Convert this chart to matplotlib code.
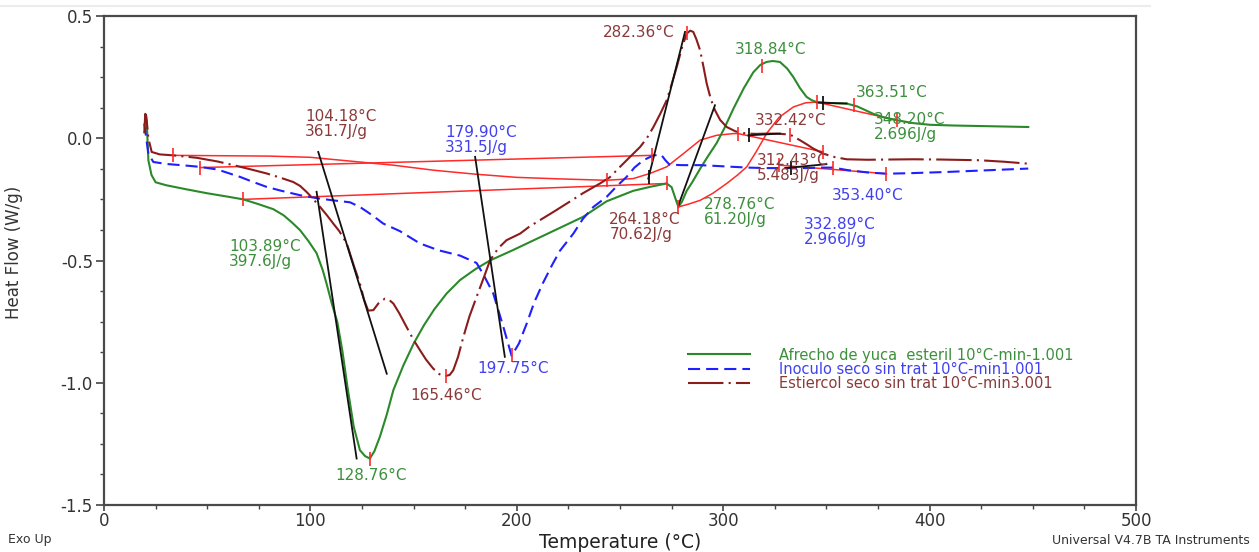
import matplotlib
matplotlib.use("Agg")
import matplotlib.pyplot as plt
from matplotlib.lines import Line2D
from matplotlib.ticker import MultipleLocator, FormatStrFormatter

plt.rcParams['font.family'] = ['DejaVu Sans']
plt.rcParams['axes.unicode_minus'] = False

# ---------------- DSC curves (temperature in °C, heat flow in W/g) ----------------
afrecho_T = [20, 20.7, 21.5, 23, 25, 30, 40, 50, 60, 67.5, 75, 82, 87, 91, 95, 99, 103,
             106, 108, 110.5, 113, 115.5, 118, 121, 124, 126.5, 128.8, 131, 133.7, 137,
             140.2, 145, 150, 155, 160, 166, 172.5, 180, 187, 198, 210, 220, 232, 243.5,
             256.4, 265, 272.6, 275, 277, 278.3, 280, 282.3, 285, 288.8, 292.5, 296.8,
             300.5, 304.9, 310, 314.6, 318, 321, 324, 327.5, 331, 334, 337.2, 340.4, 343,
             345.3, 350, 355, 359.8, 365, 372.7, 378, 384, 392, 400.2, 412, 424.4, 436,
             447.8]
afrecho_HF = [0.09, 0.07, -0.09, -0.15, -0.18, -0.192, -0.209, -0.225, -0.239, -0.25,
              -0.27, -0.29, -0.315, -0.344, -0.376, -0.42, -0.47, -0.54, -0.60, -0.68,
              -0.75, -0.87, -1.02, -1.18, -1.276, -1.30, -1.31, -1.28, -1.22, -1.13,
              -1.03, -0.93, -0.84, -0.765, -0.70, -0.635, -0.58, -0.535, -0.50, -0.458,
              -0.41, -0.37, -0.322, -0.258, -0.215, -0.198, -0.185, -0.20, -0.25, -0.281,
              -0.26, -0.215, -0.18, -0.125, -0.075, -0.02, 0.04, 0.12, 0.205, 0.27,
              0.30, 0.312, 0.316, 0.312, 0.285, 0.25, 0.205, 0.169, 0.155, 0.148, 0.145,
              0.143, 0.142, 0.13, 0.10, 0.085, 0.074, 0.062, 0.055, 0.052, 0.05, 0.048,
              0.046]

inoculo_T = [19.5, 20, 20.8, 21.5, 23.9, 30, 40, 46.5, 55, 65.9, 72, 78.8, 86, 95, 103,
             111, 119.2, 124, 130, 135.3, 143.4, 153, 162, 172.5, 180.5, 184, 188.6,
             193.5, 197.5, 201, 204.8, 208.5, 212.8, 217, 220.9, 227.4, 232, 237.1,
             243.5, 248, 253.2, 257, 261.3, 266.2, 270, 272, 274, 280, 288.8, 296,
             304.9, 312, 321, 330, 340, 347, 353.4, 360, 370, 379, 390, 408, 425, 447.8]
inoculo_HF = [0.06, 0.03, -0.02, -0.063, -0.097, -0.105, -0.112, -0.117, -0.128, -0.158,
              -0.178, -0.199, -0.215, -0.233, -0.245, -0.254, -0.262, -0.281, -0.315,
              -0.349, -0.38, -0.43, -0.458, -0.48, -0.51, -0.56, -0.635, -0.772, -0.89,
              -0.84, -0.758, -0.67, -0.59, -0.52, -0.46, -0.39, -0.33, -0.281, -0.24,
              -0.20, -0.158, -0.12, -0.09, -0.07, -0.068, -0.09, -0.108, -0.11, -0.11,
              -0.113, -0.117, -0.12, -0.122, -0.122, -0.122, -0.12, -0.12, -0.13, -0.14,
              -0.145, -0.143, -0.138, -0.132, -0.124]

estiercol_T = [19.5, 20, 20.5, 21.5, 23.1, 27, 33.6, 45, 55, 62.7, 70, 78.8, 85, 91.7,
               95, 98.2, 101, 104.7, 108, 111.1, 114, 117.6, 121, 124, 126, 128, 130.5,
               133, 136.1, 138, 140.2, 143, 146.6, 150, 153.1, 156, 159.5, 162.5, 165.2,
               167.5, 169.2, 171.5, 174.1, 177, 180.5, 184, 187, 191, 195, 201.6, 206,
               211.2, 218, 224.2, 232, 240.3, 245, 250, 255, 259.7, 263, 266.2, 269.5,
               272.6, 275, 277.5, 280, 282.3, 284, 285.5, 287, 288.8, 290.5, 292, 294,
               296, 298.5, 301.7, 306, 311.4, 316, 321, 326, 332.4, 337.2, 340.5, 343.6,
               348.5, 354, 359.8, 370, 380, 392, 405, 424.4, 436, 447.8]
estiercol_HF = [0.02, 0.10, 0.09, 0.0, -0.056, -0.066, -0.07, -0.08, -0.095, -0.11,
                -0.125, -0.144, -0.16, -0.179, -0.195, -0.22, -0.245, -0.281, -0.315,
                -0.349, -0.38, -0.43, -0.52, -0.594, -0.66, -0.705, -0.703, -0.675,
                -0.656, -0.66, -0.676, -0.715, -0.772, -0.825, -0.867, -0.905, -0.942,
                -0.965, -0.973, -0.968, -0.949, -0.895, -0.813, -0.73, -0.649, -0.57,
                -0.50, -0.45, -0.417, -0.39, -0.362, -0.335, -0.30, -0.267, -0.225,
                -0.185, -0.16, -0.117, -0.075, -0.036, 0.0, 0.046, 0.10, 0.155, 0.22,
                0.292, 0.37, 0.428, 0.44, 0.435, 0.405, 0.36, 0.29, 0.224, 0.16, 0.115,
                0.075, 0.046, 0.028, 0.019, 0.018, 0.019, 0.019, 0.015, -0.008, -0.025,
                -0.042, -0.063, -0.077, -0.086, -0.088, -0.087, -0.086, -0.087, -0.09,
                -0.096, -0.104]

series_labels = ["Afrecho de yuca  esteril 10°C-min-1.001",
                 "Inoculo seco sin trat 10°C-min1.001",
                 "Estiercol seco sin trat 10°C-min3.001"]

# ---------------- integration baselines (T, HF) ----------------
afrecho_base1_T, afrecho_base1_HF = [67.5, 272.6], [-0.25, -0.185]
afrecho_base2_T = [278.3, 283, 288.8, 295, 301.7, 307, 311.4, 316, 321, 327, 334, 340, 345.3]
afrecho_base2_HF = [-0.281, -0.27, -0.254, -0.225, -0.185, -0.15, -0.117, -0.055, 0.019,
                    0.085, 0.128, 0.145, 0.148]
afrecho_base3_T, afrecho_base3_HF = [345.3, 384], [0.148, 0.074]

inoculo_base1_T, inoculo_base1_HF = [46.5, 265.4], [-0.12, -0.07]
inoculo_base2_T, inoculo_base2_HF = [327, 379], [-0.11, -0.145]

estiercol_base1_T = [33.6, 80, 100, 120, 140, 160, 180, 200, 220, 243.5]
estiercol_base1_HF = [-0.07, -0.073, -0.078, -0.094, -0.11, -0.131, -0.147, -0.16, -0.166, -0.172]
estiercol_base2_T = [243.5, 256.4, 264.5, 272.6, 280.7, 288.8, 296.8, 304.9, 307.3]
estiercol_base2_HF = [-0.172, -0.165, -0.144, -0.117, -0.063, -0.008, 0.012, 0.019, 0.019]
estiercol_base3_T, estiercol_base3_HF = [307.3, 348.5], [0.019, -0.056]

# integration limits (red ticks)
limit_T = [67.5, 272.6, 278.3, 345.3, 384, 33.6, 243.5, 307.3, 348.5, 46.5, 265.4, 327, 379]
limit_HF = [-0.25, -0.185, -0.281, 0.148, 0.074, -0.07, -0.172, 0.019, -0.056, -0.12,
            -0.07, -0.11, -0.145]

# peak temperatures (red ticks)
peak_T = [128.76, 318.84, 363.51, 165.46, 282.36, 332.42, 197.75, 353.40]
peak_HF = [-1.31, 0.295, 0.135, -0.973, 0.432, 0.015, -0.888, -0.12]

# onset tangent constructions (black)
onset_lines = [
    ([103.0, 122.4], [-0.219, -1.31]),
    ([103.8, 137.0], [-0.056, -0.963]),
    ([179.8, 194.2], [-0.076, -0.894]),
    ([263.7, 281.5], [-0.165, 0.435]),
    ([278.3, 296.0], [-0.274, 0.135]),
    ([312.2, 327.5], [0.012, 0.019]),
    ([330.0, 350.0], [-0.122, -0.106]),
    ([345.3, 359.8], [0.146, 0.142]),
]
onset_tick_T = [312.43, 332.89, 348.20, 264.18]
onset_tick_HF = [0.012, -0.121, 0.146, -0.160]

# ---------------- annotation texts ----------------
green_c, blue_c, brown_c = "#2a8a2a", "#1f1fff", "#8b1c1c"
green_t, blue_t, brown_t = "#3c8f3c", "#4040f0", "#8b3a3a"

annotations = [
    ("104.18°C\n361.7J/g", 97.4, 0.059, brown_t),
    ("179.90°C\n331.5J/g", 165.2, -0.008, blue_t),
    ("282.36°C", 241.6, 0.432, brown_t),
    ("318.84°C", 305.7, 0.363, green_t),
    ("332.42°C", 315.1, 0.071, brown_t),
    ("312.43°C\n5.483J/g", 316.2, -0.12, brown_t),
    ("264.18°C\n70.62J/g", 244.8, -0.363, brown_t),
    ("278.76°C\n61.20J/g", 290.4, -0.30, green_t),
    ("363.51°C", 364.3, 0.187, green_t),
    ("348.20°C\n2.696J/g", 373.0, 0.044, green_t),
    ("353.40°C", 352.6, -0.236, blue_t),
    ("332.89°C\n2.966J/g", 339.1, -0.384, blue_t),
    ("103.89°C\n397.6J/g", 60.7, -0.474, green_t),
    ("165.46°C", 148.6, -1.051, brown_t),
    ("197.75°C", 180.9, -0.942, blue_t),
    ("128.76°C", 111.9, -1.378, green_t),
]

# ---------------- figure ----------------
fig = plt.figure(figsize=(12.59, 5.52), dpi=100)
ax = fig.add_axes([104 / 1259, 47 / 552, 1032 / 1259, 489 / 552])

red = "#ff2a2a"
for bt, bh in [(afrecho_base1_T, afrecho_base1_HF), (afrecho_base2_T, afrecho_base2_HF),
               (afrecho_base3_T, afrecho_base3_HF), (inoculo_base1_T, inoculo_base1_HF),
               (inoculo_base2_T, inoculo_base2_HF), (estiercol_base1_T, estiercol_base1_HF),
               (estiercol_base2_T, estiercol_base2_HF), (estiercol_base3_T, estiercol_base3_HF)]:
    ax.plot(bt, bh, color=red, lw=1.1, zorder=2)

l1, = ax.plot(afrecho_T, afrecho_HF, color=green_c, lw=1.5, zorder=3)
l2, = ax.plot(inoculo_T, inoculo_HF, color=blue_c, lw=1.5, zorder=3,
              linestyle=(0, (5.8, 2.9)))
l3, = ax.plot(estiercol_T, estiercol_HF, color=brown_c, lw=1.5, zorder=3,
              linestyle=(0, (17, 2.5, 1, 2.5)))

for ot, oh in onset_lines:
    ax.plot(ot, oh, color="#111111", lw=1.3, zorder=4)
ax.plot(onset_tick_T, onset_tick_HF, linestyle="none", marker="|", markersize=10,
        mew=1.3, color="#111111", zorder=4)

ax.plot(limit_T, limit_HF, linestyle="none", marker="|", markersize=10, mew=1.2,
        color=red, zorder=5)
ax.plot(peak_T, peak_HF, linestyle="none", marker="|", markersize=10, mew=1.2,
        color=red, zorder=5)

for txt, tx, ty, col in annotations:
    ax.text(tx, ty, txt, color=col, fontsize=11, ha="left", va="center",
            linespacing=1.0, zorder=6)

# axes styling
ax.set_xlim(0, 500)
ax.set_ylim(-1.5, 0.5)
ax.xaxis.set_major_locator(MultipleLocator(100))
ax.xaxis.set_minor_locator(MultipleLocator(25))
ax.yaxis.set_major_locator(MultipleLocator(0.5))
ax.yaxis.set_minor_locator(MultipleLocator(0.125))
ax.yaxis.set_major_formatter(FormatStrFormatter("%.1f"))
for s in ax.spines.values():
    s.set_color("#4a4a4a")
    s.set_linewidth(1.6)
ax.tick_params(which="major", direction="out", width=1.2, color="#444444",
               labelsize=12, labelcolor="#333333")
ax.tick_params(axis="y", which="major", length=6, pad=2)
ax.tick_params(axis="x", which="major", length=4, pad=1)
ax.tick_params(which="minor", direction="out", length=3, width=1.0, color="#444444")
ax.set_xlabel("Temperature (°C)", fontsize=13.5, color="#222222", labelpad=2)
ax.set_ylabel("Heat Flow (W/g)", fontsize=12, color="#333333")
ax.yaxis.set_label_coords(-0.0785, 0.517)

leg = ax.legend([l1, l2, l3], series_labels, loc="upper left",
                bbox_to_anchor=(0.566, 0.322), frameon=False, fontsize=10.5,
                handlelength=4.25, handletextpad=2.0, labelspacing=-0.05,
                borderpad=0, borderaxespad=0)
for t, c in zip(leg.get_texts(), [green_t, blue_t, brown_t]):
    t.set_color(c)

fig.text(8 / 1259, 1 - 540 / 552, "Exo Up", fontsize=9, color="#333333",
         ha="left", va="center")
fig.text(1250 / 1259, 1 - 540 / 552, "Universal V4.7B TA Instruments", fontsize=9,
         color="#333333", ha="right", va="center")
fig.add_artist(Line2D([0, 1150 / 1259], [1 - 6 / 552, 1 - 6 / 552],
                      transform=fig.transFigure, color="#ececec", lw=1.5))

fig.savefig("out.png", dpi=100)
